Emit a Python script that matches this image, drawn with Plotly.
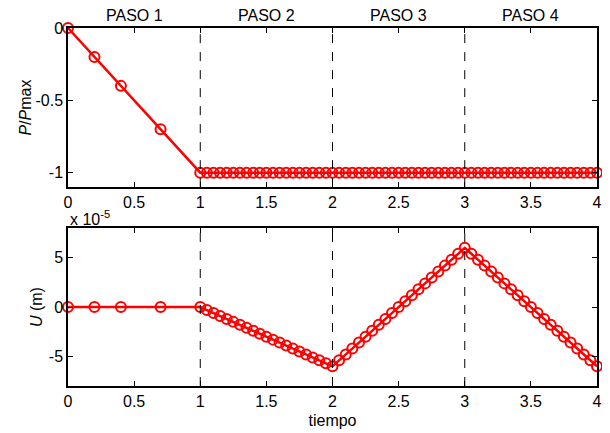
import plotly.graph_objects as go
from plotly.subplots import make_subplots

# Data
tiempo = [0.0, 0.2, 0.4, 0.7, 1.0,
          1.05, 1.1, 1.15, 1.2, 1.25, 1.3, 1.35, 1.4, 1.45, 1.5,
          1.55, 1.6, 1.65, 1.7, 1.75, 1.8, 1.85, 1.9, 1.95, 2.0,
          2.05, 2.1, 2.15, 2.2, 2.25, 2.3, 2.35, 2.4, 2.45, 2.5,
          2.55, 2.6, 2.65, 2.7, 2.75, 2.8, 2.85, 2.9, 2.95, 3.0,
          3.05, 3.1, 3.15, 3.2, 3.25, 3.3, 3.35, 3.4, 3.45, 3.5,
          3.55, 3.6, 3.65, 3.7, 3.75, 3.8, 3.85, 3.9, 3.95, 4.0]
p_pmax = [0.0, -0.2, -0.4, -0.7, -1.0] + [-1.0] * 60
# U in units of 1e-5 m
u_e5 = [0.0, 0.0, 0.0, 0.0, 0.0,
        -0.3, -0.6, -0.9, -1.2, -1.5, -1.8, -2.1, -2.4, -2.7, -3.0,
        -3.3, -3.6, -3.9, -4.2, -4.5, -4.8, -5.1, -5.4, -5.7, -6.0,
        -5.4, -4.8, -4.2, -3.6, -3.0, -2.4, -1.8, -1.2, -0.6, 0.0,
        0.6, 1.2, 1.8, 2.4, 3.0, 3.6, 4.2, 4.8, 5.4, 6.0,
        5.4, 4.8, 4.2, 3.6, 3.0, 2.4, 1.8, 1.2, 0.6, 0.0,
        -0.6, -1.2, -1.8, -2.4, -3.0, -3.6, -4.2, -4.8, -5.4, -6.0]
paso_labels = ["PASO 1", "PASO 2", "PASO 3", "PASO 4"]
paso_centers = [0.5, 1.5, 2.5, 3.5]
step_bounds = [1, 2, 3]
x_ticks = [0, 0.5, 1, 1.5, 2, 2.5, 3, 3.5, 4]
x_ticktext = ["0", "0.5", "1", "1.5", "2", "2.5", "3", "3.5", "4"]

FONT = "Liberation Sans, Arial, sans-serif"
FS = 16
RED = "#ff0000"

fig = make_subplots(rows=2, cols=1, vertical_spacing=0.1145, row_heights=[0.502, 0.498])

marker = dict(symbol="circle-open", size=10, color=RED, line=dict(width=2, color=RED))
fig.add_trace(go.Scatter(x=tiempo, y=p_pmax, mode="lines+markers",
                         line=dict(color=RED, width=2.5), marker=marker,
                         showlegend=False, cliponaxis=False), row=1, col=1)
fig.add_trace(go.Scatter(x=tiempo, y=u_e5, mode="lines+markers",
                         line=dict(color=RED, width=2.5), marker=marker,
                         showlegend=False, cliponaxis=False), row=2, col=1)

for r in (1, 2):
    for b in step_bounds:
        fig.add_vline(x=b, line=dict(color="black", width=1, dash="dash"), row=r, col=1)

axis_common = dict(showline=True, linecolor="black", linewidth=1.5, mirror="ticks",
                   ticks="inside", ticklen=5, tickcolor="black", showgrid=False,
                   zeroline=False, automargin=False,
                   tickfont=dict(family=FONT, size=FS, color="black"))

fig.update_xaxes(range=[0, 4], tickvals=x_ticks, ticktext=x_ticktext, **axis_common)
fig.update_yaxes(**axis_common)
fig.update_yaxes(range=[-1.1, 0], tickvals=[-1, -0.5, 0], ticktext=["-1", "-0.5", "0"],
                 title=dict(text="<i>P</i>/<i>P</i>max", font=dict(family=FONT, size=FS, color="black"), standoff=0),
                 row=1, col=1)
fig.update_yaxes(range=[-8, 8], tickvals=[-5, 0, 5], ticktext=["-5", "0", "5"],
                 title=dict(text="<i>U</i> (m)", font=dict(family=FONT, size=FS, color="black"), standoff=2),
                 row=2, col=1)
fig.update_xaxes(title=dict(text="tiempo", font=dict(family=FONT, size=FS, color="black"), standoff=6),
                 row=2, col=1)

for lab, cx in zip(paso_labels, paso_centers):
    fig.add_annotation(x=cx, y=1, xref="x", yref="y domain", yanchor="bottom", yshift=2,
                       text=lab, showarrow=False, font=dict(family=FONT, size=FS, color="black"))

fig.add_annotation(x=0, y=1, xref="x2 domain", yref="y2 domain", xanchor="left", yanchor="bottom",
                   yshift=-2, text="x 10<sup>-5</sup>", showarrow=False,
                   font=dict(family=FONT, size=FS, color="black"))

fig.update_layout(width=602, height=425, margin=dict(l=60, r=13, t=20, b=47),
                  paper_bgcolor="white", plot_bgcolor="white",
                  font=dict(family=FONT, size=FS, color="black"))

fig.write_html("out.html")
